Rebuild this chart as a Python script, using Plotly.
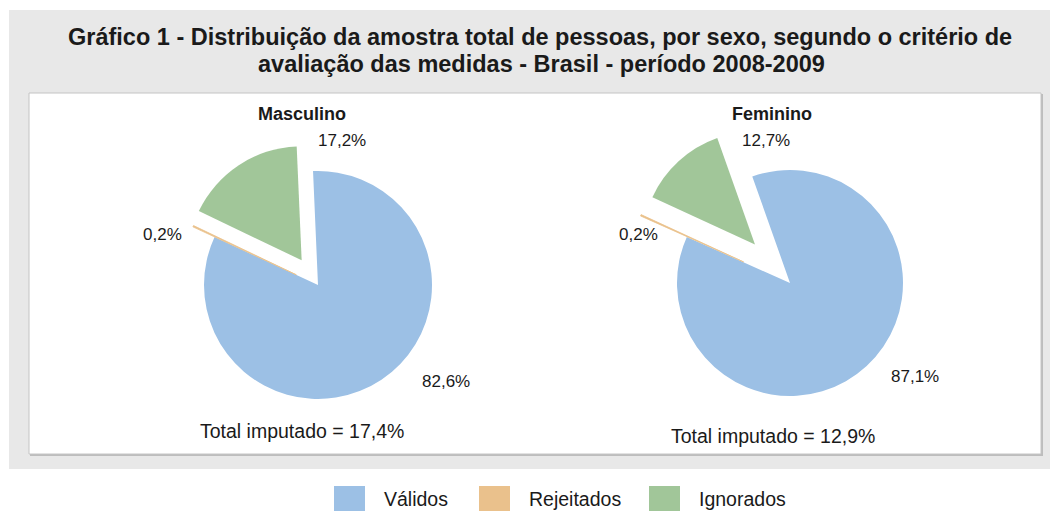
import plotly.graph_objects as go

W, H = 1050, 511

categories = ["Válidos", "Rejeitados", "Ignorados"]
colors = ["#9CC0E5", "#EAC18C", "#A1C699"]
masculino = [82.6, 0.2, 17.2]
feminino = [87.1, 0.2, 12.7]
total_imputado = {"Masculino": 17.4, "Feminino": 12.9}

title_lines = ["Gráfico 1 - Distribuição da amostra total de pessoas, por sexo, segundo o critério de",
               "avaliação das medidas - Brasil - período 2008-2009"]

FONT = "Liberation Sans, Arial, sans-serif"


def px(x):
    return x / W


def py(y):
    return 1 - y / H


def fmt(v):
    return f"{v:.1f}".replace(".", ",") + "%"


slice_line = dict(color=colors, width=[0, 0.8, 0])

fig = go.Figure()

# Masculino pie: centre (318,285), r~114
cx, cy, r, mp = 318, 285, 114, 0.26
half = r * (1 + mp)
fig.add_trace(go.Pie(
    labels=categories, values=masculino, sort=False, direction="clockwise",
    rotation=-2.5, pull=[0, 0.21, 0.26], marker=dict(colors=colors, line=slice_line),
    textinfo="none", hoverinfo="label+value", showlegend=False,
    domain=dict(x=[px(cx - half), px(cx + half)], y=[py(cy + half), py(cy - half)]),
))

# Feminino pie: centre (790,283), r~113
cx, cy, r, mp = 790, 283, 113, 0.46
half = r * (1 + mp)
fig.add_trace(go.Pie(
    labels=categories, values=feminino, sort=False, direction="clockwise",
    rotation=-19.5, pull=[0, 0.45, 0.46], marker=dict(colors=colors, line=slice_line),
    textinfo="none", hoverinfo="label+value", showlegend=False,
    domain=dict(x=[px(cx - half), px(cx + half)], y=[py(cy + half), py(cy - half)]),
))

shapes = [
    dict(type="rect", xref="paper", yref="paper", x0=px(9), x1=px(1050), y0=py(469), y1=py(10),
         fillcolor="#E8E8E8", line=dict(width=0), layer="below"),
    dict(type="rect", xref="paper", yref="paper", x0=px(30), x1=px(1043), y0=py(456), y1=py(94),
         fillcolor="#BDBDBD", line=dict(width=0), layer="below"),
    dict(type="rect", xref="paper", yref="paper", x0=px(29), x1=px(1041), y0=py(454), y1=py(93),
         fillcolor="#FFFFFF", line=dict(color="#C4C4C4", width=1), layer="below"),
]

annotations = []


def ann(text, x, y, size=17, bold=False, color="#1a1a1a"):
    annotations.append(dict(
        text=f"<b>{text}</b>" if bold else text, x=px(x), y=py(y), xref="paper", yref="paper",
        xanchor="center", yanchor="middle", showarrow=False,
        font=dict(family=FONT, size=size, color=color)))


ann(title_lines[0], 540, 37, size=23.5, bold=True)
ann(title_lines[1], 541, 64, size=23.5, bold=True)

ann("Masculino", 302, 114, size=18, bold=True)
ann(fmt(masculino[2]), 342, 141)
ann(fmt(masculino[1]), 162, 234)
ann(fmt(masculino[0]), 446, 381)
ann(f"Total imputado = {fmt(total_imputado['Masculino'])}", 302, 431, size=19.5)

ann("Feminino", 772, 114, size=18, bold=True)
ann(fmt(feminino[2]), 766, 141)
ann(fmt(feminino[1]), 638, 234)
ann(fmt(feminino[0]), 915, 376)
ann(f"Total imputado = {fmt(total_imputado['Feminino'])}", 773, 436, size=19.5)

# Legend (manual, to match large swatches)
legend_x = [334, 479, 649]
for i, (lab, col) in enumerate(zip(categories, colors)):
    x0 = legend_x[i]
    shapes.append(dict(type="rect", xref="paper", yref="paper", x0=px(x0), x1=px(x0 + 31),
                       y0=py(511), y1=py(486), fillcolor=col, line=dict(width=0)))
    annotations.append(dict(text=lab, x=px(x0 + 48), y=py(499), xref="paper", yref="paper",
                            xanchor="left", yanchor="middle", showarrow=False,
                            font=dict(family=FONT, size=19.5, color="#1a1a1a")))

fig.update_layout(
    width=W, height=H, margin=dict(l=0, r=0, t=0, b=0),
    paper_bgcolor="#FFFFFF", plot_bgcolor="#FFFFFF",
    shapes=shapes, annotations=annotations, showlegend=False,
    font=dict(family=FONT),
)

fig.write_html("out.html", config={"displayModeBar": False},
               post_script="document.body.style.margin='0';document.body.style.overflow='hidden';")
